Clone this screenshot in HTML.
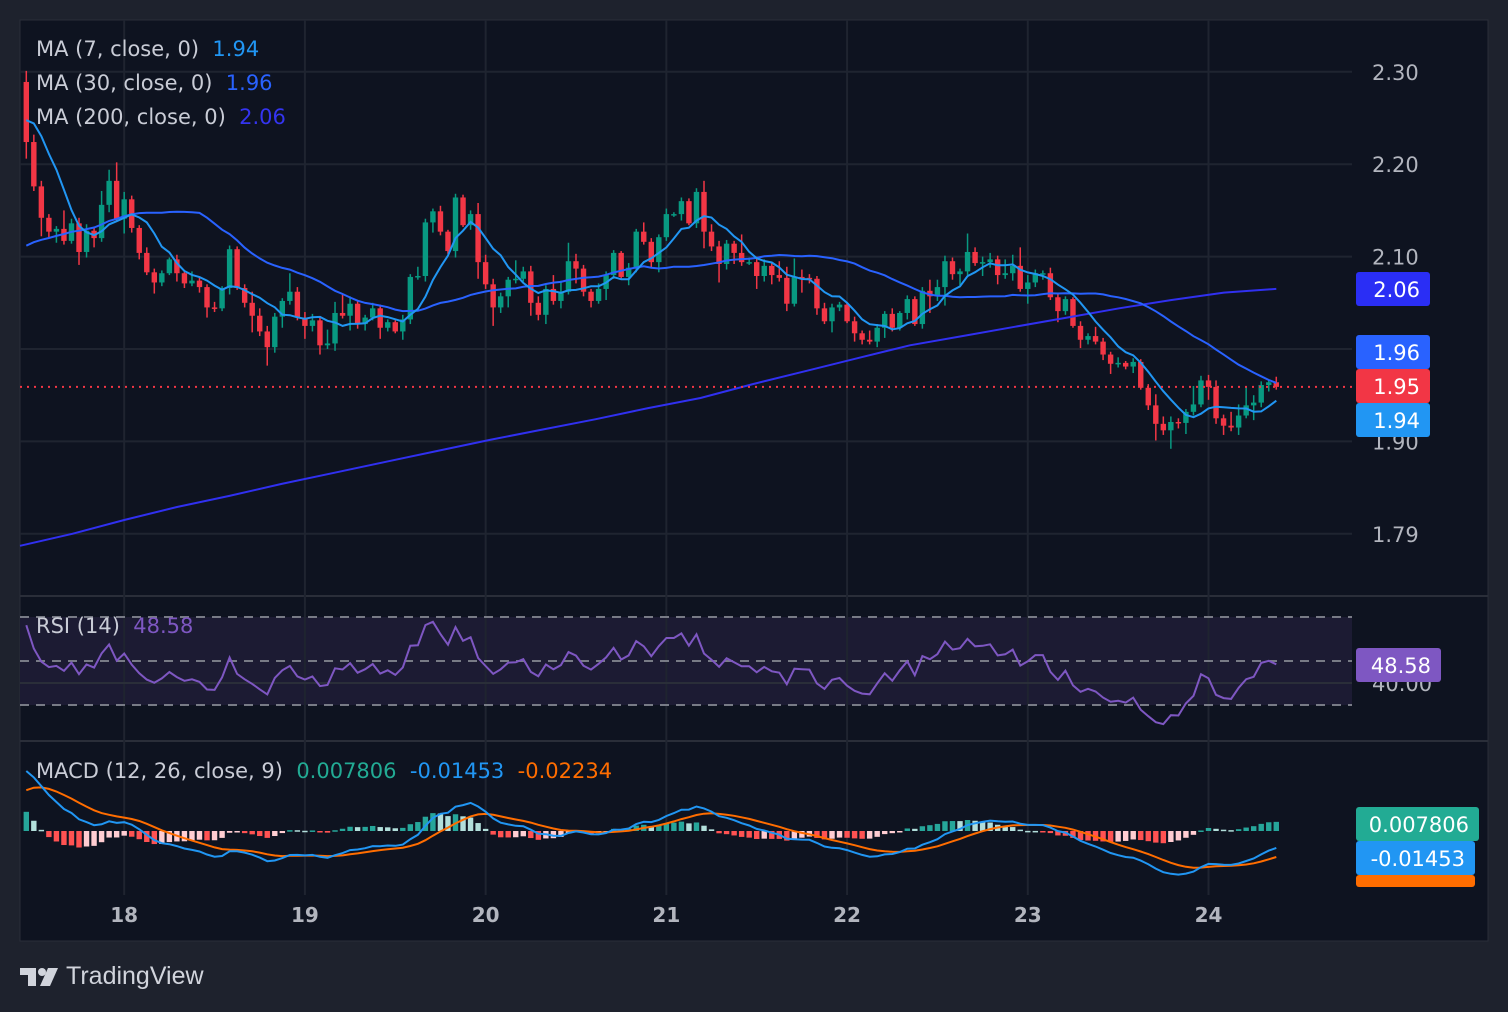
<!DOCTYPE html>
<html><head><meta charset="utf-8">
<style>
body{margin:0;background:#1e222d;width:1508px;height:1012px;overflow:hidden;font-family:"DejaVu Sans","Liberation Sans",sans-serif}
#wrap{position:absolute;left:0;top:0}
.lg{position:absolute;font-size:21px;color:#c9ccd6;white-space:pre}
</style></head><body>
<svg id="wrap" width="1508" height="1012"></svg>
<div class="lg" style="left:36px;top:37px">MA (7, close, 0)  <span style="color:#2196f3">1.94</span></div>
<div class="lg" style="left:36px;top:71px">MA (30, close, 0)  <span style="color:#2962ff">1.96</span></div>
<div class="lg" style="left:36px;top:105px">MA (200, close, 0)  <span style="color:#3434f0">2.06</span></div>
<div class="lg" style="left:36px;top:614px">RSI (14)  <span style="color:#7e57c2">48.58</span></div>
<div class="lg" style="left:36px;top:759px">MACD (12, 26, close, 9)  <span style="color:#22ab94">0.007806</span>  <span style="color:#2196f3">-0.01453</span>  <span style="color:#ff6d00">-0.02234</span></div>
<div style="position:absolute;left:20px;top:962px;height:30px">
<svg width="40" height="30" style="position:absolute;left:0;top:2px"><rect x="0" y="4" width="16" height="7" fill="#d1d4dc"/><rect x="8" y="4" width="8" height="18" fill="#d1d4dc"/><circle cx="22" cy="8" r="4" fill="#d1d4dc"/><polygon points="28,4 38,4 30,22 20,22" fill="#d1d4dc"/></svg>
<span style="position:absolute;left:46px;top:0;font-size:25px;color:#d1d4dc;font-family:'Liberation Sans',sans-serif;white-space:nowrap">TradingView</span></div>
<script>
const priorCloses=[2.06,2.065,2.07,2.06,2.055,2.065,2.07,2.075,2.068,2.06,2.065,2.072,2.078,2.07,2.064,2.07,2.076,2.08,2.074,2.07,2.078,2.085,2.09,2.2,2.24,2.26,2.25,2.27,2.289];
const closes=[2.224,2.176,2.142,2.127,2.130,2.117,2.136,2.105,2.128,2.120,2.156,2.182,2.141,2.162,2.131,2.104,2.083,2.072,2.082,2.097,2.082,2.071,2.074,2.067,2.045,2.044,2.066,2.108,2.066,2.050,2.036,2.019,2.002,2.035,2.052,2.062,2.034,2.025,2.031,2.004,2.006,2.039,2.036,2.049,2.027,2.034,2.044,2.023,2.029,2.019,2.032,2.078,2.079,2.137,2.149,2.127,2.106,2.164,2.134,
2.146,2.094,2.070,2.045,2.057,2.075,2.076,2.084,2.050,2.037,2.065,2.052,2.062,2.095,2.087,2.062,2.052,2.065,2.080,2.104,2.078,2.088,2.127,2.116,2.094,2.121,2.146,2.146,2.160,2.136,2.170,2.127,2.111,2.092,2.114,2.104,2.094,2.094,2.079,2.090,2.080,2.077,2.049,2.078,2.077,2.076,2.044,2.030,2.045,2.048,2.030,2.017,2.010,2.008,2.023,2.038,2.023,2.039,2.054,
2.027,2.063,2.057,2.067,2.095,2.081,2.084,2.105,2.093,2.094,2.097,2.080,2.082,2.090,2.065,2.072,2.082,2.082,2.056,2.041,2.054,2.025,2.010,2.014,2.008,1.994,1.984,1.985,1.981,1.986,1.958,1.939,1.919,1.912,1.921,1.920,1.932,1.940,1.966,1.959,1.925,1.917,1.915,1.928,1.939,1.942,1.961,1.964,1.959];
const wickUp=[0.012,0.008,0.006,0.004,0.003,0.02,0.005,0.006,0.007,0.004,0.015,0.012,0.02,0.008,0.004,0.003,0.006,0.004,0.003,0.002,0.005,0.003,0.01,0.004,0.003,0.006,0.002,0.004,0.003,0.004];
const wickDn=[0.018,0.005,0.02,0.006,0.012,0.004,0.003,0.014,0.006,0.01,0.004,0.008,0.003,0.016,0.005,0.007,0.003,0.012,0.004,0.002,0.009,0.005,0.003,0.006,0.011,0.004,0.003,0.007,0.002,0.005];
const ma200=[1.787,1.800,1.815,1.829,1.841,1.854,1.866,1.878,1.890,1.902,1.913,1.924,1.936,1.947,1.962,1.976,1.990,2.004,2.014,2.024,2.034,2.044,2.053,2.061,2.065];
const dayLabels=['18','19','20','21','22','23','24'];
const priceTicks=[2.30,2.20,2.10,2.00,1.90,1.80];
const priceTickLabels=['2.30','2.20','2.10','','1.90','1.79'];
const rsiTicks=[70,50,30];

const svg=document.getElementById('wrap');const NS='http://www.w3.org/2000/svg';
function mk(t,a,p){const e=document.createElementNS(NS,t);for(const k in a)e.setAttribute(k,a[k]);(p||svg).appendChild(e);return e;}
const xOf=i=>26.3+i*7.53;
const yP=p=>349-(p-2.0)*924;
const yR=v=>661-(v-50)*2.2;
const yM=v=>831-v*1170;

let e;
e=mk('rect',{x:20,y:20,width:1468,height:921,fill:'#0e1320',stroke:'#2a2e39'});

[596,741].forEach(y=>{e=mk('line',{x1:20,x2:1488,y1:y,y2:y,stroke:'#2a2e39','stroke-width':2});
});
e=mk('rect',{x:20,y:yR(70),width:1332,height:yR(30)-yR(70),fill:'#1c1b33'});

dayLabels.forEach((d,k)=>{const x=xOf(13+24*k);
 e=mk('line',{x1:x,x2:x,y1:20,y2:895,stroke:'#1f2430','stroke-width':2});
 
 e=mk('text',{x:x,y:922,fill:'#b2b5be','font-size':20,'text-anchor':'middle','font-weight':'bold'});e.textContent=d;
 });
priceTicks.forEach((p,k)=>{const y=yP(p);
 e=mk('line',{x1:20,x2:1352,y1:y,y2:y,stroke:'#1f2430','stroke-width':2});
 
 if(priceTickLabels[k]){e=mk('text',{x:1372,y:y+8,fill:'#b2b5be','font-size':21});e.textContent=priceTickLabels[k];
 }});
e=mk('line',{x1:20,x2:1352,y1:yR(40),y2:yR(40),stroke:'#2a2e39','stroke-width':2});

rsiTicks.forEach(v=>{e=mk('line',{x1:20,x2:1352,y1:yR(v),y2:yR(v),stroke:'#787b86','stroke-width':2,'stroke-dasharray':'9 7'});
 });
e=mk('text',{x:1372,y:yR(40)+8,fill:'#b2b5be','font-size':21});e.textContent='40.00';


const all=priorCloses.concat(closes);const P=priorCloses.length;
const cg=mk('g',{});
closes.forEach((c,i)=>{const o=all[P+i-1];const up=c>=o;const col=up?'#089981':'#f23645';const x=xOf(i);
 const hi=Math.max(o,c)+wickUp[i%wickUp.length],lo=Math.min(o,c)-wickDn[i%wickDn.length];
 e=mk('line',{x1:x,x2:x,y1:yP(hi),y2:yP(lo),stroke:col,'stroke-width':1.5},cg);
 
 const y1=yP(Math.max(o,c)),y2=yP(Math.min(o,c));
 e=mk('rect',{x:x-2.7,y:y1,width:5.4,height:Math.max(1.5,y2-y1),fill:col},cg);
 });
function sma(n){return closes.map((c,i)=>{let s=0;for(let k=0;k<n;k++)s+=all[P+i-k];return s/n;});}
function line(vals,yf,col,name,w,xf){const pts=vals.map((v,i)=>(xf?xf(i):xOf(i)).toFixed(1)+','+yf(v).toFixed(1)).join(' ');
 const l=mk('polyline',{points:pts,fill:'none',stroke:col,'stroke-width':w||2});return l;}
line(ma200,yP,'#3030f0','ma200-line',2,i=>20+i*(xOf(closes.length-1)-20)/(ma200.length-1));
line(sma(30),yP,'#2962ff','ma30-line',2);
line(sma(7),yP,'#2196f3','ma7-line',2);
e=mk('line',{x1:20,x2:1352,y1:yP(closes[closes.length-1]),y2:yP(closes[closes.length-1]),stroke:'#f23645','stroke-width':2,'stroke-dasharray':'2 5'});


let ag=0,al=0;const rsi=[];
for(let j=1;j<all.length;j++){const d=all[j]-all[j-1];const g=Math.max(d,0),l=Math.max(-d,0);
 if(j<=14){ag+=g/14;al+=l/14;}else{ag=(ag*13+g)/14;al=(al*13+l)/14;}
 if(j>=P)rsi.push(al===0?100:100-100/(1+ag/al));}
line(rsi,yR,'#7e57c2','rsi-line',2);

function ema(arr,n){const k=2/(n+1);const out=[];let v=arr[0];arr.forEach(a=>{v=a*k+v*(1-k);out.push(v);});return out;}
const e12=ema(all,12),e26=ema(all,26);const macdAll=e12.map((v,i)=>v-e26[i]);const sigAll=ema(macdAll,9);
const macd=macdAll.slice(P),sig=sigAll.slice(P),hist=macd.map((v,i)=>v-sig[i]);
const hg=mk('g',{});
hist.forEach((h,i)=>{const prev=i?hist[i-1]:h;let col;
 if(h>=0)col=h>=prev?'#26a69a':'#b2dfdb';else col=h<prev?'#ff5252':'#ffcdd2';
 const y=Math.min(yM(0),yM(h));e=mk('rect',{x:xOf(i)-2.7,y:y,width:5.4,height:Math.max(1.5,Math.abs(yM(h)-yM(0))),fill:col},hg);
 });
const cl=mk('clipPath',{id:'mc'});mk('rect',{x:20,y:742,width:1332,height:152},cl);
const sl=line(sig,yM,'#ff6d00','macd-signal-line',2);sl.setAttribute('clip-path','url(#mc)');
const ml=line(macd,yM,'#2196f3','macd-line',2);ml.setAttribute('clip-path','url(#mc)');

function tag(x,y,w,h,bg,txt,name){const g=mk('g',{});
 mk('rect',{x:x,y:y,width:w,height:h,rx:3,fill:bg},g);
 const t=mk('text',{x:x+w-10,y:y+h/2+8,fill:'#fff','font-size':21,'text-anchor':'end'},g);t.textContent=txt;}
tag(1356,272,74,34,'#2a2ef5','2.06','ma200-price-tag');
tag(1356,335,74,34,'#2962ff','1.96','ma30-price-tag');
tag(1356,369,74,34,'#f23645','1.95','current-price-tag');
tag(1356,403,74,34,'#2196f3','1.94','ma7-price-tag');
tag(1356,648,85,34,'#7e57c2','48.58','rsi-value-tag');
tag(1356,875,119,12,'#ff6d00','','signal-value-tag');
tag(1356,807,123,34,'#22ab94','0.007806','histogram-value-tag');
tag(1356,841,119,34,'#2196f3','-0.01453','macd-value-tag');
e=mk('rect',{x:1340,y:887,width:147,height:8,fill:'#0e1320'});

</script>
</body></html>
